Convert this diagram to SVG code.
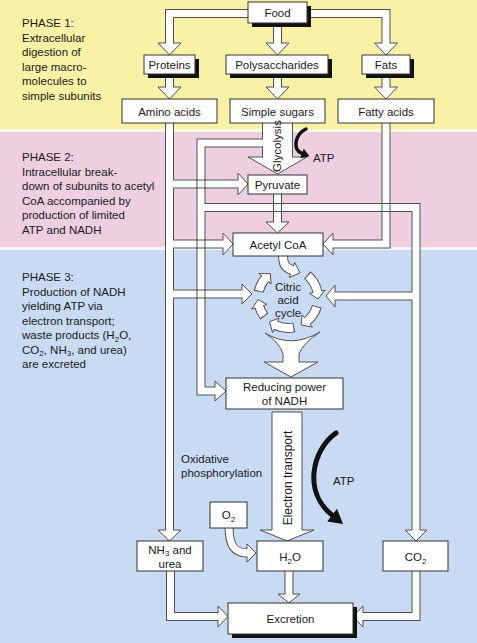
<svg xmlns="http://www.w3.org/2000/svg" width="477" height="643" viewBox="0 0 477 643">
<style>
.bd{fill:#fff;stroke:#333;stroke-width:1}
.sh{fill:#111}
.t{font-family:"Liberation Sans",Arial,sans-serif;font-size:11.5px;fill:#1a1a1a}
.c{text-anchor:middle}
.pd{fill:none;stroke:#505050;stroke-width:9;stroke-linejoin:miter}
.pw{fill:none;stroke:#fff;stroke-width:7;stroke-linejoin:miter}
.hd{fill:#fff;stroke:#505050;stroke-width:1;stroke-linejoin:miter}
.x{fill:none;stroke:#505050;stroke-width:1}
.rd{fill:none;stroke:#505050;stroke-width:10}
.rw{fill:none;stroke:#fff;stroke-width:8}
.blk{fill:none;stroke:#111}
</style>
<g id="background">
<rect x="0" y="0" width="477" height="129" fill="#f9f1a5"/>
<rect x="0" y="129" width="477" height="3" fill="#fdf9e4"/>
<rect x="0" y="132" width="477" height="115" fill="#edcfe0"/>
<rect x="0" y="247" width="477" height="3" fill="#f5f2f8"/>
<rect x="0" y="250" width="477" height="393" fill="#c9dbf3"/>
</g>
<g id="phase-labels" class="t">
<text x="22" y="27">PHASE 1:</text>
<text x="22" y="41.5">Extracellular</text>
<text x="22" y="56">digestion of</text>
<text x="22" y="70.5">large macro-</text>
<text x="22" y="85">molecules to</text>
<text x="22" y="99.5">simple subunits</text>
<text x="22" y="161">PHASE 2:</text>
<text x="22" y="175.5">Intracellular break-</text>
<text x="22" y="190">down of subunits to acetyl</text>
<text x="22" y="204.5">CoA accompanied by</text>
<text x="22" y="219">production of limited</text>
<text x="22" y="233.5">ATP and NADH</text>
<text x="22" y="281">PHASE 3:</text>
<text x="22" y="295.5">Production of NADH</text>
<text x="22" y="310">yielding ATP via</text>
<text x="22" y="324.5">electron transport;</text>
<text x="22" y="339">waste products (H<tspan font-size="8" dy="2.5">2</tspan><tspan dy="-2.5">O,</tspan></text>
<text x="22" y="353.5">CO<tspan font-size="8" dy="2.5">2</tspan><tspan dy="-2.5">, NH</tspan><tspan font-size="8" dy="2.5">3</tspan><tspan dy="-2.5">, and urea)</tspan></text>
<text x="22" y="368">are excreted</text>
</g>
<g id="connectors">
<g id="pipes-dark" class="pd">
<path d="M250,13.5H169.5V43"/>
<path d="M277.5,21V43"/>
<path d="M305,13.5H386V43"/>
<path d="M169.5,72V87"/>
<path d="M277.5,72V87"/>
<path d="M386,72V87"/>
<path d="M169.5,121V530"/>
<path d="M169.5,184H238"/>
<path d="M169.5,244H223"/>
<path d="M169.5,294H242"/>
<path d="M277.5,121V157" stroke-width="31"/>
<path d="M277.5,143H201V391H215"/>
<path d="M201,207.5H416V530"/>
<path d="M416,296H335"/>
<path d="M386,121V244H333"/>
<path d="M277.5,192V222"/>
<path d="M170.5,569V616.5H218"/>
<path d="M289,569V594"/>
<path d="M416,569V616.5H363"/>
<path d="M229,526C229,545 234,553 247,553"/>
</g>
<g id="heads" class="hd">
<polygon points="158,43 181,43 169.5,55"/>
<polygon points="266,43 289,43 277.5,55"/>
<polygon points="374.5,43 397.5,43 386,55"/>
<polygon points="158,87 181,87 169.5,99"/>
<polygon points="266,87 289,87 277.5,99"/>
<polygon points="374.5,87 397.5,87 386,99"/>
<polygon points="158,530 181,530 169.5,541"/>
<polygon points="238,173 238,195 248,184"/>
<polygon points="223,233 223,255 233,244"/>
<polygon points="242,284 242,304 252,294"/>
<polygon points="248,157 307,157 277.5,174"/>
<polygon points="215,381 215,401 226,391"/>
<polygon points="405,530 427,530 416,541"/>
<polygon points="335,285 335,307 326,296"/>
<polygon points="333,233 333,255 323,244"/>
<polygon points="266,222 289,222 277.5,233"/>
<polygon points="218,606 218,627 228,616.5"/>
<polygon points="278,594 300,594 289,603"/>
<polygon points="363,606 363,627 353,616.5"/>
<polygon points="247,544 247,562 256,553"/>
</g>
<g id="pipes-white" class="pw">
<path d="M250,13.5H169.5V44.5"/>
<path d="M277.5,21V44.5"/>
<path d="M305,13.5H386V44.5"/>
<path d="M169.5,72V88.5"/>
<path d="M277.5,72V88.5"/>
<path d="M386,72V88.5"/>
<path d="M169.5,121V531.5"/>
<path d="M169.5,184H239.5"/>
<path d="M169.5,244H224.5"/>
<path d="M169.5,294H243.5"/>
<path d="M277.5,121V158.5" stroke-width="29"/>
<path d="M277.5,143H201V391H216.5"/>
<path d="M201,207.5H416V531.5"/>
<path d="M416,296H333.5"/>
<path d="M386,121V244H331.5"/>
<path d="M277.5,192V223.5"/>
<path d="M170.5,569V616.5H219.5"/>
<path d="M289,569V595.5"/>
<path d="M416,569V616.5H361.5"/>
<path d="M229,526C229,545 234,553 248.5,553"/>
</g>
<g id="crossings" class="x">
<path d="M197,179.5V188.5M205,179.5V188.5M196.5,180H205.5M196.5,188H205.5"/>
<path d="M197,239.5V248.5M205,239.5V248.5M196.5,240H205.5M196.5,248H205.5"/>
<path d="M197,289.5V298.5M205,289.5V298.5M196.5,290H205.5M196.5,298H205.5"/>
<path d="M273.5,203V212M281.5,203V212M273,203.5H282M273,211.5H282"/>
<path d="M382,203V212M390,203V212M381.5,203.5H390.5M381.5,211.5H390.5"/>
</g>
<g id="citric-cycle-arrows">
<g class="rd">
<path d="M307.28,275.02A30,30 0 0 1 317.34,291.76"/>
<path d="M316.84,306.27A30,30 0 0 1 307.28,320.98"/>
<path d="M294.24,327.34A30,30 0 0 1 275.80,325.41"/>
<path d="M264.36,316.47A30,30 0 0 1 259.31,306.77"/>
<path d="M258.66,291.76A30,30 0 0 1 265.02,278.72"/>
<path d="M283,254C283,265 285,267.5 292,270"/>
</g>
<g class="hd">
<polygon points="325.17,290.10 317.98,299.05 309.52,293.43"/>
<polygon points="312.43,327.11 301.15,324.96 302.14,314.85"/>
<polygon points="272.55,332.71 269.53,321.64 279.05,318.10"/>
<polygon points="251.66,309.11 258.04,299.57 266.96,304.43"/>
<polygon points="258.89,273.57 270.37,273.73 271.15,283.86"/>
<polygon points="289.3,277.5 300,272.9 294.7,262.5"/>
</g>
<g class="rw">
<path d="M308.07,275.71A30,30 0 0 1 317.54,292.79"/>
<path d="M316.53,307.27A30,30 0 0 1 306.47,321.64"/>
<path d="M293.21,327.54A30,30 0 0 1 274.85,324.96"/>
<path d="M263.73,315.63A30,30 0 0 1 259.02,305.76"/>
<path d="M258.89,290.74A30,30 0 0 1 265.71,277.93"/>
<path d="M283,254C283,265 285,267.5 293.4,270.5"/>
</g>
</g>
<path id="funnel" class="hd" d="M265,333Q291,349 320,332Q303,343 299,354L299,362L318,362L291,377L264,362L283,362L283,354Q280,343 265,333Z"/>
<polygon id="electron-transport-arrow" class="hd" points="272,412 302,412 302,530 314,530 287,541 260,530 272,530"/>
<g id="atp-arrows">
<path class="blk" stroke-width="3.5" stroke-linecap="round" d="M306,129C295,134 292,150 302,153.5"/>
<polygon fill="#111" points="300.3,158.2 303.7,148.8 309.5,156.2"/>
<path class="blk" stroke-width="5" stroke-linecap="round" d="M336,433C312,450 303,492 332,515"/>
<polygon fill="#111" points="327.2,521.5 337,508.8 343,524"/>
</g>
</g>
<g id="node-food"><rect class="sh" x="252" y="6" width="59" height="21"/><rect class="bd" x="248" y="2" width="59" height="21"/><text class="t c" x="277.5" y="16.5">Food</text></g>
<g id="node-proteins"><rect class="sh" x="148" y="59" width="51" height="19"/><rect class="bd" x="144" y="55" width="51" height="19"/><text class="t c" x="169.5" y="68.5">Proteins</text></g>
<g id="node-polysaccharides"><rect class="sh" x="230" y="59" width="102" height="19"/><rect class="bd" x="226" y="55" width="102" height="19"/><text class="t c" x="277" y="68.5">Polysaccharides</text></g>
<g id="node-fats"><rect class="sh" x="366" y="59" width="48" height="19"/><rect class="bd" x="362" y="55" width="48" height="19"/><text class="t c" x="386" y="68.5">Fats</text></g>
<g id="node-amino-acids"><rect class="bd" x="122" y="99" width="95" height="24"/><text class="t c" x="169.5" y="115.5">Amino acids</text></g>
<g id="node-simple-sugars"><rect class="bd" x="230" y="99" width="95" height="24"/><text class="t c" x="277.5" y="115.5">Simple sugars</text></g>
<g id="node-fatty-acids"><rect class="bd" x="338" y="99" width="96" height="24"/><text class="t c" x="386" y="115.5">Fatty acids</text></g>
<g id="node-pyruvate"><rect class="bd" x="248" y="175" width="59" height="19"/><text class="t c" x="277.5" y="188.5">Pyruvate</text></g>
<g id="node-acetyl-coa"><rect class="bd" x="233" y="233" width="90" height="23"/><text class="t c" x="278" y="248.5">Acetyl CoA</text></g>
<g id="node-citric-acid-cycle"><text class="t c" x="288" y="291">Citric</text><text class="t c" x="288" y="304">acid</text><text class="t c" x="288" y="317">cycle</text></g>
<g id="node-reducing-power"><rect class="bd" x="226" y="378" width="117" height="31"/><text class="t c" x="284.5" y="391">Reducing power</text><text class="t c" x="284.5" y="405">of NADH</text></g>
<g id="node-o2"><rect class="bd" x="210" y="502" width="37" height="26"/><text class="t c" x="228.5" y="519">O<tspan font-size="8" dy="2.5">2</tspan></text></g>
<g id="node-nh3-urea"><rect class="bd" x="137" y="541" width="66" height="30"/><text class="t c" x="170" y="553.5">NH<tspan font-size="8" dy="2">3</tspan><tspan dy="-2"> and</tspan></text><text class="t c" x="170" y="567.5">urea</text></g>
<g id="node-h2o"><rect class="bd" x="257" y="541" width="66" height="30"/><text class="t c" x="290" y="561">H<tspan font-size="8" dy="2.5">2</tspan><tspan dy="-2.5">O</tspan></text></g>
<g id="node-co2"><rect class="bd" x="383" y="541" width="65" height="30"/><text class="t c" x="415.5" y="561">CO<tspan font-size="8" dy="2.5">2</tspan></text></g>
<g id="node-excretion"><rect class="sh" x="232" y="607" width="125" height="31"/><rect class="bd" x="228" y="603" width="125" height="31"/><text class="t c" x="290.5" y="622.5">Excretion</text></g>
<g id="labels" class="t">
<text class="c" transform="translate(281,146) rotate(-90)">Glycolysis</text>
<text class="c" transform="translate(291.5,478) rotate(-90)" font-size="12">Electron transport</text>
<text x="313" y="162">ATP</text>
<text x="333" y="485">ATP</text>
<text x="181" y="463">Oxidative</text>
<text x="181" y="477">phosphorylation</text>
</g>
</svg>
